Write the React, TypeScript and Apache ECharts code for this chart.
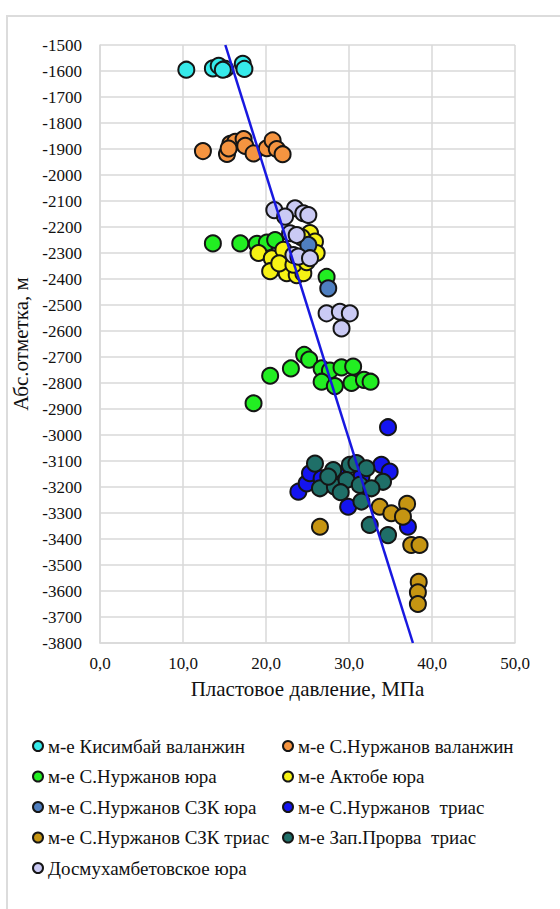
import React, { useEffect, useRef } from "react";
import * as echarts from "echarts";

const SERIES_NAMES = [
  "м-е Кисимбай валанжин",
  "м-е С.Нуржанов валанжин",
  "м-е С.Нуржанов юра",
  "м-е Актобе юра",
  "м-е С.Нуржанов СЗК юра",
  "м-е С.Нуржанов  триас",
  "м-е С.Нуржанов СЗК триас",
  "м-е Зап.Прорва  триас",
  "Досмухамбетовское юра",
];

const kisimbayValanzhin = [
  [10.4, -1595], [13.6, -1590], [14.3, -1580], [15.1, -1592], [14.8, -1595], [17.2, -1572], [17.4, -1592],
];
const nurzhanovValanzhin = [
  [12.4, -1908], [15.3, -1919], [15.7, -1880], [16.3, -1872], [17.3, -1862], [17.5, -1888], [15.5, -1898],
  [18.5, -1917], [20.1, -1897], [20.8, -1867], [21.3, -1900], [22.0, -1920],
];
const nurzhanovYura = [
  [13.6, -2263], [16.9, -2263], [18.9, -2265], [20.1, -2260], [21.1, -2250], [27.3, -2392],
  [20.5, -2772], [23.0, -2744], [24.6, -2692], [25.2, -2710], [26.7, -2744], [27.7, -2752],
  [29.1, -2740], [30.5, -2737], [26.7, -2795], [28.3, -2812], [30.3, -2800], [31.8, -2788],
  [32.6, -2795], [18.5, -2878],
];
const aktobeYura = [
  [19.1, -2300], [20.7, -2320], [20.5, -2370], [22.5, -2378], [23.7, -2385], [24.5, -2378],
  [25.3, -2223], [25.9, -2256], [26.1, -2300], [22.1, -2288], [21.6, -2340], [23.3, -2345],
  [24.9, -2335], [24.3, -2240],
];
const nurzhanovSzkYura = [
  [25.1, -2269], [27.5, -2436],
];
const nurzhanovTrias = [
  [34.7, -2970], [23.9, -3218], [24.9, -3186], [25.3, -3147], [26.7, -3167], [29.9, -3276],
  [33.9, -3115], [34.9, -3141], [37.1, -3353], [31.5, -3160], [28.5, -3150],
];
const nurzhanovSzkTrias = [
  [26.5, -3353], [33.7, -3276], [35.1, -3301], [37.0, -3265], [36.5, -3314], [37.5, -3423],
  [38.5, -3423], [38.4, -3565], [38.3, -3605], [38.3, -3650],
];
const zapProrvaTrias = [
  [25.9, -3110], [28.1, -3135], [30.1, -3115], [30.9, -3108], [32.1, -3128], [34.1, -3180],
  [26.5, -3205], [28.3, -3199], [29.7, -3173], [31.3, -3192], [32.7, -3205], [31.5, -3256],
  [32.5, -3346], [34.7, -3385], [27.5, -3160], [29.0, -3220],
];
const dosmukhambetYura = [
  [21.0, -2135], [23.5, -2128], [24.5, -2147], [25.1, -2154], [22.3, -2160], [22.9, -2224],
  [23.7, -2231], [23.3, -2308], [23.9, -2314], [25.3, -2320], [27.3, -2532], [28.9, -2526],
  [30.1, -2532], [29.1, -2590],
];
const trendLine = [
  [15.1, -1500], [37.7, -3800],
];

const SERIES_DATA = [
  kisimbayValanzhin, nurzhanovValanzhin, nurzhanovYura, aktobeYura, nurzhanovSzkYura,
  nurzhanovTrias, nurzhanovSzkTrias, zapProrvaTrias, dosmukhambetYura,
];
const SERIES_COLORS = [
  "#36EAEA", "#F59440", "#22EE22", "#F6F214", "#4F7FC0",
  "#1414F0", "#C69512", "#1F6F68", "#CACAF4",
];

const X_TITLE = "Пластовое давление, МПа";
const Y_TITLE = "Абс.отметка, м";

const FONT = "Liberation Serif";

export default function App() {
  const ref = useRef<HTMLDivElement>(null);
  useEffect(() => {
    document.body.style.margin = "0";
    const chart = echarts.init(ref.current!, null, { renderer: "svg" });
    const scatter = SERIES_NAMES.map((name, i) => ({
      name,
      type: "scatter",
      data: SERIES_DATA[i],
      symbol: "circle",
      symbolSize: 16,
      itemStyle: { color: SERIES_COLORS[i], borderColor: "#151515", borderWidth: 2, opacity: 1 },
      z: 2,
    }));
    const legendBase = {
      orient: "vertical",
      top: 731,
      icon: "circle",
      itemWidth: 10,
      itemHeight: 10,
      itemGap: 10.5,
      textStyle: { fontFamily: FONT, fontSize: 19, color: "#111", lineHeight: 20 },
      selectedMode: false,
    };
    chart.setOption({
      animation: false,
      backgroundColor: "#fff",
      textStyle: { fontFamily: FONT },
      grid: { left: 100, right: 45, top: 45, bottom: 266 },
      xAxis: {
        type: "value",
        min: 0,
        max: 50,
        interval: 10,
        name: X_TITLE,
        nameLocation: "middle",
        nameGap: 35,
        nameTextStyle: { fontFamily: FONT, fontSize: 21, color: "#111" },
        axisLine: { show: true, lineStyle: { color: "#d9d9d9", width: 1.5 } },
        axisTick: { show: false },
        axisLabel: {
          fontFamily: FONT,
          fontSize: 17,
          color: "#111",
          margin: 12,
          formatter: (v: number) => v.toFixed(1).replace(".", ","),
        },
        splitLine: { show: true, lineStyle: { color: "#d9d9d9", width: 1.5 } },
      },
      yAxis: {
        type: "value",
        min: -3800,
        max: -1500,
        interval: 100,
        name: Y_TITLE,
        nameLocation: "middle",
        nameGap: 58,
        nameRotate: 90,
        nameTextStyle: { fontFamily: FONT, fontSize: 21, color: "#111" },
        axisLine: { show: true, lineStyle: { color: "#d9d9d9", width: 1.5 } },
        axisTick: { show: false },
        axisLabel: {
          fontFamily: FONT,
          fontSize: 17,
          color: "#111",
          margin: 18,
          formatter: (v: number) => String(v),
        },
        splitLine: { show: true, lineStyle: { color: "#d9d9d9", width: 1.5 } },
      },
      legend: [
        { ...legendBase, left: 27, data: [0, 2, 4, 6, 8].map((i) => SERIES_NAMES[i]) },
        { ...legendBase, left: 277, data: [1, 3, 5, 7].map((i) => SERIES_NAMES[i]) },
      ],
      graphic: [
        {
          type: "rect",
          shape: { x: 7, y: 16, width: 700, height: 1000 },
          style: { fill: "none", stroke: "#dcdcdc", lineWidth: 2 },
          silent: true,
        },
      ],
      series: [
        ...scatter,
        {
          name: "trend",
          type: "line",
          data: trendLine,
          showSymbol: false,
          symbol: "none",
          lineStyle: { color: "#1818E0", width: 2.5 },
          z: 5,
          silent: true,
        },
      ],
    });
    return () => chart.dispose();
  }, []);
  return <div ref={ref} style={{ position: "fixed", left: 0, top: 0, width: 560, height: 909 }} />;
}
